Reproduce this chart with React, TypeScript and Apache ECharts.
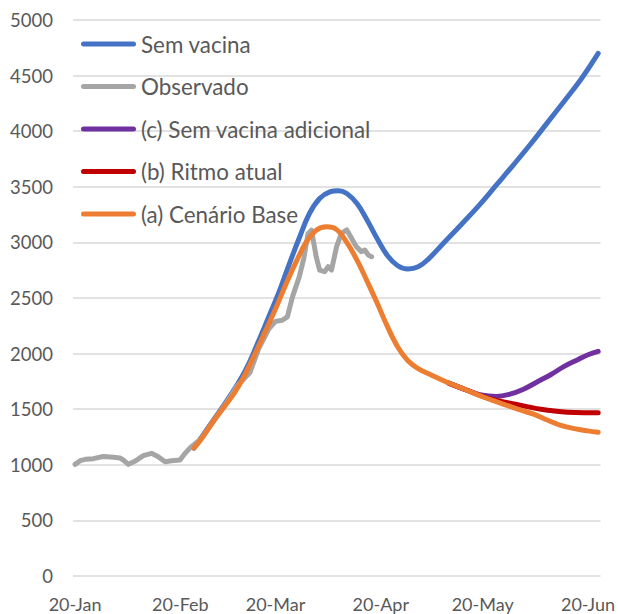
import React, { useEffect, useRef } from "react";
import * as echarts from "echarts";

// x = days since 20-Jan
const xTickDays = [0, 31, 59, 90, 120, 151];
const xTickLabels = ["20-Jan", "20-Feb", "20-Mar", "20-Apr", "20-May", "20-Jun"];

const seriesNames = [
  "Sem vacina",
  "Observado",
  "(c) Sem vacina adicional",
  "(b) Ritmo atual",
  "(a) Cenário Base",
];
const seriesColors = ["#4472C4", "#A5A5A5", "#7030A0", "#C00000", "#ED7D31"];

const semVacinaDays = [35, 40, 45, 50, 54, 57, 60, 63, 66, 69, 72, 75, 77.5, 80, 83, 86, 89, 92, 95, 98, 101, 104, 109, 114, 119, 124, 129, 134, 139, 144, 149, 154];
const semVacinaVals = [1150, 1370, 1590, 1840, 2110, 2330, 2550, 2800, 3040, 3260, 3395, 3455, 3465, 3440, 3350, 3200, 3030, 2880, 2790, 2760, 2780, 2850, 3010, 3170, 3335, 3515, 3695, 3880, 4075, 4270, 4470, 4700];

const observadoDays = [0, 1.5, 3, 5.4, 8.3, 11.3, 13.2, 14.2, 15.7, 17.6, 20.1, 22.5, 24.5, 26.5, 28.4, 30.9, 32.4, 34, 37, 41, 45, 48, 51.5, 54, 57, 59, 61, 62.5, 64, 66, 67.3, 68.6, 69.6, 71, 72, 73.5, 74.5, 75.5, 77, 78.4, 80, 81.4, 82.8, 84.3, 85.3, 86.3, 87.3];
const observadoVals = [1004, 1037, 1049, 1055, 1075, 1067, 1061, 1043, 1004, 1031, 1082, 1103, 1073, 1028, 1037, 1043, 1103, 1157, 1230, 1400, 1580, 1720, 1830, 2040, 2220, 2290, 2300, 2330, 2510, 2690, 2850, 3080, 3110, 2870, 2750, 2737, 2782, 2752, 2962, 3082, 3112, 3037, 2962, 2917, 2932, 2887, 2872];

const semAdicionalDays = [110, 115, 120, 124, 128, 132, 136, 140, 144, 148, 151, 154];
const semAdicionalVals = [1735, 1675, 1625, 1615, 1635, 1680, 1745, 1810, 1885, 1945, 1990, 2020];

const ritmoDays = [110, 115, 120, 124, 128, 132, 136, 140, 145, 150, 154];
const ritmoVals = [1735, 1675, 1615, 1580, 1555, 1530, 1505, 1488, 1472, 1468, 1468];

const baseDays = [35, 37, 41, 44, 47, 50, 53, 56, 59, 62, 65, 68, 71, 74, 77, 80, 83, 86, 89, 92, 95, 98, 101, 105, 110, 115, 120, 124, 128, 131, 135, 139, 143, 147, 151, 154];
const baseVals = [1150, 1225, 1405, 1525, 1650, 1810, 2000, 2200, 2400, 2620, 2820, 3000, 3110, 3140, 3115, 3000, 2840, 2650, 2450, 2240, 2060, 1935, 1865, 1805, 1735, 1675, 1612, 1568, 1525, 1493, 1455, 1403, 1355, 1325, 1305, 1293];

const zip = (d: number[], v: number[]) => d.map((x, i) => [x, v[i]]);

const seriesData = [
  zip(semVacinaDays, semVacinaVals),
  zip(observadoDays, observadoVals),
  zip(semAdicionalDays, semAdicionalVals),
  zip(ritmoDays, ritmoVals),
  zip(baseDays, baseVals),
];

const FONT = "Lato";
const TEXT_COLOR = "#595959";

export default function App() {
  const ref = useRef<HTMLDivElement>(null);
  useEffect(() => {
    document.body.style.margin = "0";
    if (!ref.current) return;
    const chart = echarts.init(ref.current, undefined, { renderer: "svg" });
    chart.setOption({
      animation: false,
      backgroundColor: "#ffffff",
      grid: { left: 73, right: 17, top: 20, bottom: 38, containLabel: false },
      xAxis: {
        type: "value",
        min: -0.6,
        max: 154.7,
        splitLine: { show: false },
        axisTick: { show: false },
        axisLine: { show: false },
        axisLabel: {
          customValues: xTickDays,
          formatter: (v: number) => {
            const i = xTickDays.indexOf(Math.round(v));
            return i >= 0 ? xTickLabels[i] : "";
          },
          color: TEXT_COLOR,
          fontFamily: FONT,
          fontSize: 18,
          margin: 19,
        },
      },
      yAxis: {
        type: "value",
        min: 0,
        max: 5000,
        interval: 500,
        axisLine: { show: false },
        axisTick: { show: false },
        splitLine: { lineStyle: { color: "#d9d9d9", width: 1.5 } },
        axisLabel: {
          formatter: (v: number) => String(v),
          color: TEXT_COLOR,
          fontFamily: FONT,
          fontSize: 18.5,
          margin: 20,
        },
      },
      legend: {
        orient: "vertical",
        left: 76,
        top: 27,
        padding: 5,
        itemWidth: 55,
        itemHeight: 5,
        itemGap: 18.5,
        icon: "path://M2.5,0 H52.5 A2.5,2.5 0 0 1 52.5,5 H2.5 A2.5,2.5 0 0 1 2.5,0 Z",
        textStyle: { color: TEXT_COLOR, fontFamily: FONT, fontSize: 22.4, lineHeight: 24 },
        data: seriesNames,
      },
      series: seriesNames.map((name, i) => ({
        name,
        type: "line",
        data: seriesData[i],
        showSymbol: false,
        symbol: "none",
        smooth: i === 1 ? false : 0.4,
        color: seriesColors[i],
        itemStyle: { color: seriesColors[i] },
        lineStyle: { color: seriesColors[i], width: 5, cap: "round", join: "round" },
      })),
    });
    return () => chart.dispose();
  }, []);
  return <div ref={ref} style={{ width: 618, height: 614 }} />;
}
